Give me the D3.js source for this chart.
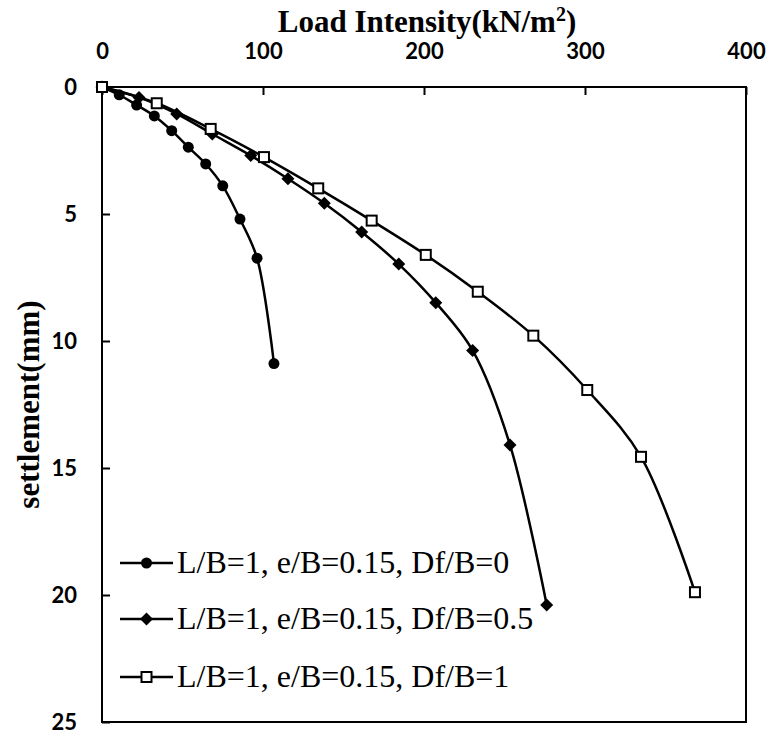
<!DOCTYPE html>
<html>
<head>
<meta charset="utf-8">
<script src="https://cdn.jsdelivr.net/npm/d3@7"></script>
<style>
  body { margin: 0; background: #fff; }
  svg { display: block; }
  .tick text { font-family: Lato, "Open Sans", sans-serif; font-weight: 700; font-size: 22px; fill: #000; }
  .tick line { stroke: #000; stroke-width: 2; }
</style>
</head>
<body>
<svg id="chart" width="769" height="734"></svg>
<script>
const seriesNames = [
  "L/B=1, e/B=0.15, Df/B=0",
  "L/B=1, e/B=0.15, Df/B=0.5",
  "L/B=1, e/B=0.15, Df/B=1"
];

// load intensity (kN/m2) and settlement (mm) per series
const loadDf0 = [0, 10.7, 21.5, 32.5, 43.3, 53.6, 64.4, 75.0, 85.7, 96.3, 106.8];
const settleDf0 = [0, 0.31, 0.71, 1.14, 1.72, 2.37, 3.03, 3.89, 5.2, 6.74, 10.89];

const loadDf05 = [0, 23.0, 46.4, 68.5, 92.4, 115.5, 138.1, 161.3, 184.3, 207.3, 230.2, 253.4, 276.2];
const settleDf05 = [0, 0.41, 1.06, 1.85, 2.7, 3.61, 4.58, 5.71, 6.97, 8.49, 10.37, 14.09, 20.39];

const loadDf1 = [0, 34.0, 67.5, 100.6, 134.3, 167.5, 201.1, 233.4, 267.9, 301.4, 334.8, 368.3];
const settleDf1 = [0, 0.64, 1.65, 2.76, 3.99, 5.26, 6.61, 8.06, 9.79, 11.93, 14.56, 19.89];

const xTicks = [0, 100, 200, 300, 400];
const yTicks = [0, 5, 10, 15, 20, 25];

const series = [
  { name: seriesNames[0], marker: "circle", x: loadDf0, y: settleDf0 },
  { name: seriesNames[1], marker: "diamond", x: loadDf05, y: settleDf05 },
  { name: seriesNames[2], marker: "square", x: loadDf1, y: settleDf1 }
];

const serif = '"Liberation Serif", "Times New Roman", serif';

const margin = { top: 87, right: 23, bottom: 12, left: 102 };
const width = 769 - margin.left - margin.right;
const height = 734 - margin.top - margin.bottom;

const svg = d3.select("#chart");
const g = svg.append("g").attr("transform", `translate(${margin.left},${margin.top})`);

const x = d3.scaleLinear().domain([0, 400]).range([0, width]);
const y = d3.scaleLinear().domain([0, 25]).range([0, height]);

// axes (ticks point inward)
g.append("g")
  .call(d3.axisTop(x).tickValues(xTicks).tickSizeInner(-8).tickSizeOuter(0).tickPadding(28))
  .call(a => a.select(".domain").remove());

g.append("g")
  .call(d3.axisLeft(y).tickValues(yTicks).tickSizeInner(-8).tickSizeOuter(0).tickPadding(25))
  .call(a => a.select(".domain").remove());

// plot frame
g.append("rect")
  .attr("width", width)
  .attr("height", height)
  .attr("fill", "none")
  .attr("stroke", "#000")
  .attr("stroke-width", 2);

// titles
function titleStyle(t) {
  t.style("font-family", serif)
    .style("font-weight", "700")
    .style("font-size", "31px")
    .style("fill", "#000");
}

svg.append("text")
  .call(titleStyle)
  .attr("x", margin.left + width / 2 + 3)
  .attr("y", 32)
  .attr("text-anchor", "middle")
  .html('Load Intensity(kN/m<tspan dy="-11" style="font-size:20px">2</tspan><tspan dy="11">)</tspan>');

svg.append("text")
  .call(titleStyle)
  .attr("transform", `translate(39,${margin.top + height / 2}) rotate(-90)`)
  .attr("text-anchor", "middle")
  .text("settlement(mm)");

const line = d3.line()
  .x(d => x(d[0]))
  .y(d => y(d[1]))
  .curve(d3.curveCatmullRom);

function drawMarker(sel, type, cx, cy) {
  if (type === "circle") {
    sel.append("circle").attr("cx", cx).attr("cy", cy).attr("r", 5.5).attr("fill", "#000");
  } else if (type === "diamond") {
    const s = 6.5;
    sel.append("path")
      .attr("d", `M${cx},${cy - s}L${cx + s},${cy}L${cx},${cy + s}L${cx - s},${cy}Z`)
      .attr("fill", "#000");
  } else {
    sel.append("rect")
      .attr("x", cx - 5).attr("y", cy - 5)
      .attr("width", 10).attr("height", 10)
      .attr("fill", "#fff").attr("stroke", "#000").attr("stroke-width", 2);
  }
}

series.forEach(s => {
  const pts = s.x.map((v, i) => [v, s.y[i]]);
  g.append("path")
    .datum(pts)
    .attr("fill", "none")
    .attr("stroke", "#000")
    .attr("stroke-width", 2.5)
    .attr("d", line);
  const mg = g.append("g");
  pts.forEach(p => drawMarker(mg, s.marker, x(p[0]), y(p[1])));
});

// legend
const legend = svg.append("g");
const legendY = [563, 619, 677];
series.forEach((s, i) => {
  const row = legend.append("g");
  row.append("line")
    .attr("x1", 120).attr("x2", 173)
    .attr("y1", legendY[i]).attr("y2", legendY[i])
    .attr("stroke", "#000").attr("stroke-width", 2.5);
  drawMarker(row, s.marker, 146.5, legendY[i]);
  row.append("text")
    .attr("x", 177)
    .attr("y", legendY[i] + 10)
    .style("font-family", serif)
    .style("font-size", "32px")
    .style("fill", "#000")
    .text(s.name);
});
</script>
</body>
</html>
